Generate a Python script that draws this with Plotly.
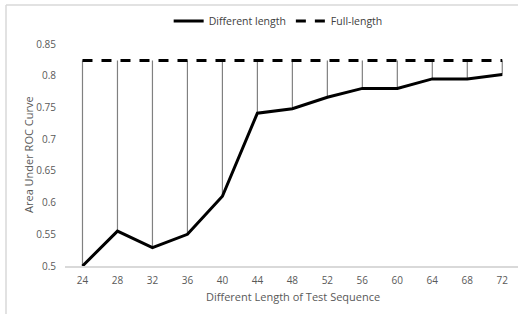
import plotly.graph_objects as go

lengths = [24, 28, 32, 36, 40, 44, 48, 52, 56, 60, 64, 68, 72]
different_length = [0.500, 0.555, 0.529, 0.550, 0.610, 0.741, 0.748, 0.766, 0.780, 0.780, 0.795, 0.795, 0.802]
full_length = [0.824] * len(lengths)

# high-low connector lines between the two series
hx, hy = [], []
for x, a, b in zip(lengths, different_length, full_length):
    hx += [x, x, None]
    hy += [a, b, None]

font = "Open Sans, Liberation Sans, sans-serif"
fig = go.Figure()
fig.add_trace(go.Scatter(x=hx, y=hy, mode="lines", line=dict(color="#808080", width=1.2),
                         showlegend=False, hoverinfo="skip"))
fig.add_trace(go.Scatter(x=lengths, y=different_length, mode="lines", name="Different length",
                         line=dict(color="black", width=3)))
fig.add_trace(go.Scatter(x=lengths, y=full_length, mode="lines", name="Full-length",
                         line=dict(color="black", width=3, dash="10px,9px")))

fig.update_layout(
    width=518, height=314,
    margin=dict(l=65, r=0, t=44, b=48, autoexpand=False),
    paper_bgcolor="white", plot_bgcolor="white",
    font=dict(family=font, size=10, color="#595959"),
    legend=dict(orientation="h", x=0.537, xanchor="center", y=1 - 21 / 314, yanchor="middle",
                xref="container", yref="container",
                font=dict(size=10.5, color="#404040"), itemwidth=30, tracegroupgap=0),
    shapes=[
        dict(type="line", xref="paper", yref="paper", x0=-59 / 453, x1=-59 / 453, y0=-0.3, y1=261 / 222,
             line=dict(color="#d9d9d9", width=1.5), layer="above"),
        dict(type="line", xref="paper", yref="paper", x0=-59 / 453, x1=1.0, y0=261 / 222, y1=261 / 222,
             line=dict(color="#d9d9d9", width=1.5), layer="above"),
    ],
    annotations=[
        dict(text="Area Under ROC Curve", xref="paper", yref="paper", x=-37 / 453, y=0.5,
             textangle=-90, showarrow=False, xanchor="center", yanchor="middle",
             font=dict(size=11, color="#595959")),
        dict(text="Different Length of Test Sequence", xref="paper", yref="paper", x=228 / 453, y=-30 / 222,
             showarrow=False, xanchor="center", yanchor="middle",
             font=dict(size=11, color="#595959")),
    ],
)
fig.update_xaxes(range=[22, 73.8], tickvals=lengths, ticktext=[str(v) for v in lengths],
                 showgrid=False, zeroline=False, showline=True, linecolor="#d9d9d9", linewidth=1.5,
                 ticks="", ticklabelstandoff=4, automargin=False)
fig.update_yaxes(range=[0.5, 0.85], dtick=0.05, tickformat="~g", automargin=False,
                 showgrid=False, zeroline=False, showline=False, ticks="", ticklabelstandoff=8)
fig.write_html("out.html", config={"displayModeBar": False},
               post_script="document.body.style.margin='0';document.body.style.overflow='hidden';")
